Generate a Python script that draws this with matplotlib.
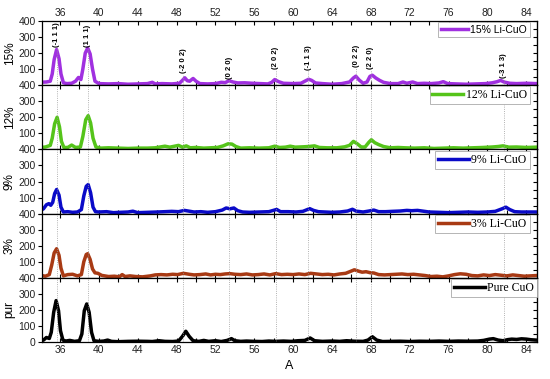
import numpy as np
import matplotlib
matplotlib.use("Agg")
import matplotlib.pyplot as plt
from matplotlib.ticker import MultipleLocator

plt.rcParams['font.family'] = ['Liberation Sans', 'DejaVu Sans']

# spectra: (2theta, intensity)
pct15 = [(34.0,18),(34.6,20),(35.0,25),(35.2,70),(35.4,160),(35.65,222),(35.9,165),(36.1,70),(36.35,15),
         (36.7,10),(37.2,12),(37.6,25),(37.9,48),(38.15,35),(38.35,100),(38.6,200),(38.85,232),(39.1,195),
         (39.35,100),(39.6,25),(40.0,10),(41.0,8),(42.0,10),(43.0,6),(44.0,8),(45.0,10),(45.5,18),(45.8,8),
         (46.5,10),(47.5,8),(48.3,12),(48.6,30),(48.85,46),(49.1,28),(49.35,25),(49.7,42),(50.0,25),(50.4,10),
         (51.2,8),(52.0,10),(52.6,18),(53.0,16),(53.4,28),(53.8,20),(54.3,14),(55.0,15),(55.8,12),(56.6,10),
         (57.4,8),(57.8,18),(58.1,35),(58.5,22),(59.0,12),(60.0,10),(60.8,12),(61.3,28),(61.6,37),(61.9,30),
         (62.3,14),(63.0,10),(64.0,6),(65.0,10),(65.8,20),(66.2,45),(66.45,56),(66.8,32),(67.2,12),(67.6,20),
         (67.9,55),(68.15,62),(68.5,45),(68.9,30),(69.3,18),(70.0,10),(70.8,10),(71.3,20),(71.7,12),(72.3,20),
         (72.8,10),(73.5,12),(74.2,10),(75.0,14),(75.45,22),(75.9,10),(76.8,8),(77.8,6),(78.8,8),(79.8,10),
         (80.5,15),(81.0,22),(81.35,30),(81.7,20),(82.3,12),(83.0,10),(84.0,12),(85.0,10)]

pct12 = [(34.0,12),(34.5,15),(35.0,25),(35.2,70),(35.45,160),(35.7,200),(35.95,140),(36.15,50),(36.4,12),
         (36.8,12),(37.2,27),(37.6,12),(38.1,15),(38.35,80),(38.65,185),(38.9,210),(39.15,165),(39.4,70),
         (39.7,15),(40.2,8),(41.0,10),(42.0,8),(43.0,6),(44.0,8),(45.0,8),(45.8,10),(46.3,15),(46.8,20),
         (47.3,14),(47.8,20),(48.2,25),(48.6,14),(49.0,22),(49.4,10),(50.0,12),(50.8,8),(51.5,10),(52.2,12),
         (52.8,22),(53.3,35),(53.7,33),(54.1,18),(54.6,8),(55.5,10),(56.5,8),(57.5,10),(58.1,20),(58.6,12),
         (59.2,14),(59.7,20),(60.2,14),(61.0,16),(61.6,18),(62.2,22),(62.7,12),(63.5,10),(64.5,10),(65.3,16),
         (65.8,25),(66.2,50),(66.6,35),(67.0,15),(67.4,15),(67.8,45),(68.05,60),(68.4,42),(68.8,30),(69.3,18),
         (70.0,10),(70.8,12),(71.5,10),(72.5,8),(73.5,10),(74.5,6),(75.5,8),(76.5,10),(77.5,8),(78.5,10),
         (79.5,12),(80.5,15),(81.1,18),(81.6,22),(82.2,14),(83.0,15),(84.0,12),(85.0,14)]

pct9 = [(34.0,20),(34.3,30),(34.6,55),(34.85,62),(35.05,52),(35.25,70),(35.45,125),(35.65,150),(35.9,115),
        (36.1,40),(36.35,10),(36.8,12),(37.3,8),(37.8,10),(38.2,25),(38.45,110),(38.7,170),(38.9,181),
        (39.15,130),(39.4,40),(39.65,12),(40.0,10),(40.8,12),(41.5,6),(42.2,8),(43.0,10),(43.5,15),(44.0,6),
        (45.0,8),(46.0,10),(46.8,12),(47.5,14),(48.2,12),(48.8,20),(49.3,15),(49.8,10),(50.5,12),(51.2,8),
        (52.0,12),(52.7,22),(53.1,35),(53.5,30),(53.9,35),(54.3,18),(54.8,10),(55.5,8),(56.5,10),(57.5,12),
        (58.3,26),(58.7,12),(59.5,12),(60.3,10),(61.0,14),(61.7,31),(62.1,20),(62.6,12),(63.3,10),(64.0,8),
        (64.8,10),(65.6,16),(66.1,27),(66.5,15),(67.2,10),(67.8,16),(68.3,22),(68.8,12),(69.5,12),(70.2,14),
        (71.0,16),(71.7,20),(72.2,18),(72.8,20),(73.4,15),(74.0,10),(75.0,8),(76.0,6),(77.0,8),(78.0,10),
        (79.0,8),(80.0,10),(80.8,14),(81.5,30),(81.9,40),(82.3,25),(82.8,12),(83.5,10),(84.5,10),(85.0,10)]

pct3 = [(34.0,15),(34.5,10),(34.9,20),(35.15,80),(35.4,155),(35.65,181),(35.9,140),(36.1,60),(36.35,12),
        (36.8,20),(37.3,22),(37.8,12),(38.2,20),(38.45,100),(38.7,145),(38.85,150),(39.1,115),(39.35,55),
        (39.6,31),(39.9,28),(40.3,15),(41.0,8),(41.6,10),(42.1,6),(42.4,20),(42.7,8),(43.2,12),(43.8,8),
        (44.5,6),(45.3,12),(45.8,18),(46.4,20),(47.0,18),(47.6,22),(48.1,20),(48.7,28),(49.3,22),(49.8,18),
        (50.4,20),(51.0,24),(51.5,18),(52.0,22),(52.5,20),(53.0,24),(53.5,26),(54.0,22),(54.6,20),(55.2,24),
        (55.8,18),(56.4,20),(57.0,24),(57.6,18),(58.2,26),(58.8,20),(59.4,22),(60.0,20),(60.6,24),(61.2,20),
        (61.8,28),(62.4,24),(63.0,20),(63.6,22),(64.2,18),(64.8,24),(65.4,28),(65.9,40),(66.3,50),(66.7,42),
        (67.1,35),(67.5,38),(67.9,32),(68.3,30),(68.8,20),(69.4,18),(70.0,20),(70.6,22),(71.2,24),(71.8,20),
        (72.4,22),(73.0,18),(73.6,14),(74.2,8),(74.8,10),(75.4,6),(76.0,12),(76.6,20),(77.2,25),(77.8,22),
        (78.4,14),(79.0,12),(79.6,18),(80.2,14),(80.8,20),(81.4,16),(82.0,12),(82.6,18),(83.2,14),(83.8,10),
        (84.4,12),(85.0,14)]

pure = [(34.0,8),(34.3,12),(34.6,28),(34.9,22),(35.1,60),(35.35,185),(35.6,258),(35.85,195),(36.05,70),
        (36.3,12),(36.6,6),(37.0,10),(37.5,4),(38.0,8),(38.25,50),(38.5,195),(38.75,237),(39.0,185),
        (39.25,60),(39.5,8),(40.0,4),(40.5,6),(40.9,12),(41.3,4),(42.0,2),(43.0,4),(44.0,5),(45.0,4),
        (45.5,3),(46.2,8),(46.8,4),(47.6,3),(48.2,6),(48.6,35),(48.95,67),(49.3,35),(49.7,8),(50.3,4),
        (50.8,10),(51.3,4),(52.0,8),(52.6,3),(53.2,10),(53.65,21),(54.0,8),(54.6,4),(55.2,6),(56.0,4),
        (56.8,3),(57.5,6),(58.2,4),(59.0,6),(59.8,4),(60.5,8),(61.2,10),(61.75,25),(62.2,8),(63.0,4),
        (64.0,6),(64.8,4),(65.5,8),(66.3,5),(67.2,4),(67.7,12),(68.15,33),(68.6,12),(69.2,3),(70.0,4),
        (71.0,5),(72.0,3),(73.0,5),(74.0,4),(75.0,6),(76.0,4),(77.0,6),(78.0,5),(79.0,6),(79.6,10),
        (80.2,18),(80.6,21),(81.1,12),(81.6,8),(82.1,15),(82.5,18),(83.0,16),(83.5,20),(84.0,18),
        (84.5,14),(85.0,12)]

series = [pct15, pct12, pct9, pct3, pure]
ylabels = ['15%', '12%', '9%', '3%', 'pur']
legends = ['15% Li-CuO', '12% Li-CuO', '9% Li-CuO', '3% Li-CuO', 'Pure CuO']
colors = ['#a030e0', '#55c41a', '#0a0ac8', '#a83a14', 'black']
yticks = [0, 100, 200, 300, 400]

# Miller indices, position of the dotted line, bottom of the label
hkl = ['(-1 1 1)', '(1 1 1)', '(-2 0 2)', '(0 2 0)', '(2 0 2)', '(-1 1 3)', '(0 2 2)', '(2 2 0)', '(-3 1 3)']
hkl_x = [35.66, 38.85, 48.7, 53.4, 58.2, 61.55, 66.5, 68.0, 81.7]
hkl_y = [240, 240, 73, 38, 104, 94, 115, 100, 44]

fig, axes = plt.subplots(5, 1, sharex=True, figsize=(5.5, 3.79), dpi=100)
fig.subplots_adjust(left=0.0764, right=0.9764, top=0.9446, bottom=0.0976, hspace=0)

for k, ax in enumerate(axes):
    d = np.array(series[k])
    ax.plot(d[:, 0], d[:, 1], color=colors[k], lw=2.5, label=legends[k],
            solid_joinstyle='round')
    ax.set_xlim(34.15, 85.1)
    ax.set_ylim(0, 400)
    ax.set_ylabel(ylabels[k], fontsize=8.5, labelpad=2)
    ax.set_yticks(yticks)
    # the 400 of the panel below sits where this panel's 0 would be
    ax.set_yticklabels([str(v) if (v > 0 or k == 4) else '' for v in yticks])
    ax.xaxis.set_major_locator(MultipleLocator(4))
    ax.xaxis.set_minor_locator(MultipleLocator(2))
    ax.tick_params(axis='y', which='both', direction='out', length=3, width=0.8,
                   labelsize=7.5, pad=1.5, right=False, labelcolor='#222222')
    ax.tick_params(axis='x', which='both', direction='in', length=3, width=0.8,
                   labelsize=7.5, top=True, pad=2, labelcolor='#222222')
    sec = ax.secondary_yaxis('right')
    sec.yaxis.set_major_locator(MultipleLocator(50))
    sec.tick_params(direction='in', length=3, width=0.8, labelright=False)
    for sp in ax.spines.values():
        sp.set_linewidth(0.9)

    if k == 0:
        for x, y in zip(hkl_x, hkl_y):
            ax.vlines(x, 0, y - 5, colors='#999999', linestyles=':', lw=0.6)
    else:
        for x in hkl_x:
            ax.axvline(x, color='#999999', ls=':', lw=0.6)

    if k == 0:
        fp = {'family': 'Liberation Sans', 'size': 7.5}
    else:
        fp = {'family': 'Liberation Serif', 'size': 8.5}
    leg = ax.legend(loc='upper right', bbox_to_anchor=(0.985 if k < 4 else 1.0, 0.98),
                    prop=fp, frameon=True, fancybox=False, framealpha=1,
                    edgecolor='#aaaaaa', handlelength=2.6, handletextpad=0.2,
                    borderpad=0.25, borderaxespad=0)
    leg.get_frame().set_linewidth(0.6)

top = axes[0]
top.tick_params(axis='x', labeltop=True, labelbottom=False)
for txt, x, y in zip(hkl, hkl_x, hkl_y):
    top.text(x, y, txt, rotation=90, ha='center', va='bottom', fontsize=5.5,
             fontweight='bold')

for ax in axes[1:4]:
    ax.tick_params(axis='x', labelbottom=False)

axes[-1].set_xlabel('A', fontsize=9, labelpad=4)

fig.savefig('out.png', dpi=100)
